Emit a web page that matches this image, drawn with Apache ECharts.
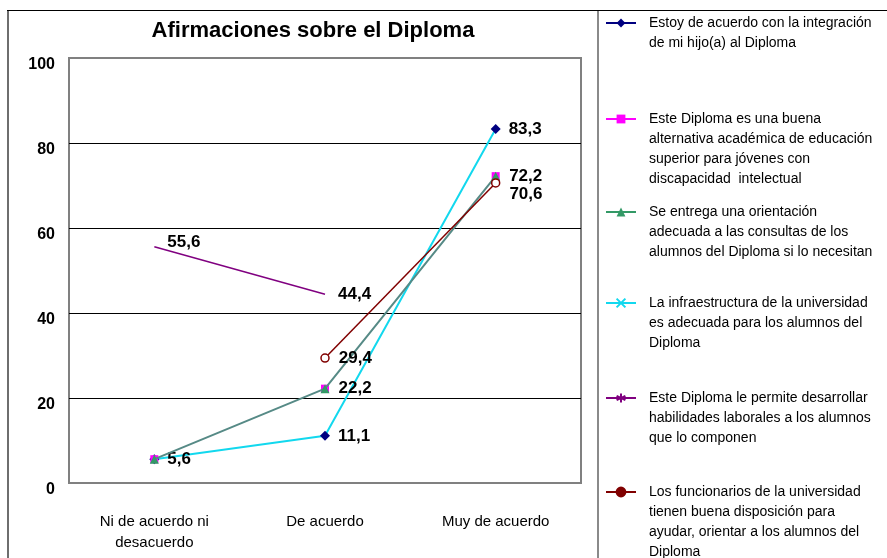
<!DOCTYPE html>
<html>
<head>
<meta charset="utf-8">
<script src="https://cdn.jsdelivr.net/npm/echarts@6/dist/echarts.min.js"></script>
<style>
  html, body { margin: 0; padding: 0; background: #fff; }
  #chart { width: 887px; height: 558px; }
</style>
</head>
<body>
<div id="chart"></div>
<script>
const categories = ['Ni de acuerdo ni\ndesacuerdo', 'De acuerdo', 'Muy de acuerdo']
const yTicks = [0, 20, 40, 60, 80, 100]

const integracion = [5.6, 11.1, 83.3]
const alternativa = [5.6, 22.2, 72.2]
const orientacion = [5.6, 22.2, 72.2]
const infraestructura = [5.6, 11.1, 83.3]
const habilidades = [55.6, 44.4, null]
const funcionarios = [null, 29.4, 70.6]

// which points carry a value label (shared positions are labelled once)
const labelsInfra = [true, true, true]
const labelsOrient = [false, true, true]
const labelsHab = [true, true, false]
const labelsFunc = [false, true, true]

const legendLines = [
  ['Estoy de acuerdo con la integración', 'de mi hijo(a) al Diploma'],
  ['Este Diploma es una buena', 'alternativa académica de educación', 'superior para jóvenes con', 'discapacidad  intelectual'],
  ['Se entrega una orientación', 'adecuada a las consultas de los', 'alumnos del Diploma si lo necesitan'],
  ['La infraestructura de la universidad', 'es adecuada para los alumnos del', 'Diploma'],
  ['Este Diploma le permite desarrollar', 'habilidades laborales a los alumnos', 'que lo componen'],
  ['Los funcionarios de la universidad', 'tienen buena disposición para', 'ayudar, orientar a los alumnos del', 'Diploma']
]
const legendTopY = [22, 118, 211, 302, 397, 491]
const names = legendLines.map(l => l.join(' '))

const FONT = '"Liberation Sans", Arial, sans-serif'
const LH = 20
const X_MARK = 'path://M0,0L10,10M10,0L0,10'
const STAR_MARK = 'path://M5,0L5,10M0,2.5L10,7.5M0,7.5L10,2.5'

const fmt = p => String(p.value).replace('.', ',')

function withLabels(values, flags, offsets) {
  return values.map((v, i) => {
    const item = { value: v, label: { show: !!(flags && flags[i]) } }
    if (offsets && offsets[i]) item.label.offset = offsets[i]
    return item
  })
}

const labelBase = {
  position: 'right',
  distance: 9,
  color: '#000',
  fontWeight: 'bold',
  fontSize: 17,
  fontFamily: FONT,
  formatter: fmt
}
// for series whose markers are hidden in the plot (size 0)
const labelWide = Object.assign({}, labelBase, { distance: 13 })

const chart = echarts.init(document.getElementById('chart'))

const legends = legendLines.map((lines, i) => {
  const n = lines.length
  const text = '\n'.repeat(n - 1) + lines.join('\n')
  const override = {}
  if (i === 0 || i === 1) override.lineStyle = { opacity: 1 }
  if (i === 2) override.lineStyle = { color: '#339966' }
  if (i === 5) override.itemStyle = { color: '#800000' }
  return {
    left: 605,
    top: legendTopY[i] + 1 - (2 * n - 1) * LH / 2,
    orient: 'vertical',
    padding: 0,
    selectedMode: false,
    itemWidth: 30,
    itemHeight: 11,
    itemGap: 0,
    formatter: () => text,
    textStyle: { fontSize: 14, color: '#000', fontFamily: FONT, lineHeight: LH, padding: [0, 0, 0, 8] },
    data: [Object.assign({ name: names[i] }, override)]
  }
})

chart.setOption({
  backgroundColor: '#fff',
  animation: false,
  title: {
    text: 'Afirmaciones sobre el Diploma',
    left: 308,
    top: 15,
    textAlign: 'center',
    textStyle: { fontSize: 22, fontWeight: 'bold', color: '#000', fontFamily: FONT }
  },
  legend: legends,
  graphic: [
    { type: 'line', shape: { x1: 8, y1: 10, x2: 8, y2: 560 }, style: { stroke: '#6e6e6e', lineWidth: 2 } },
    { type: 'line', shape: { x1: 598, y1: 10, x2: 598, y2: 560 }, style: { stroke: '#8a8a8a', lineWidth: 2 } },
    { type: 'line', shape: { x1: 7, y1: 10.5, x2: 887, y2: 10.5 }, style: { stroke: '#000', lineWidth: 1 } }
  ],
  grid: {
    left: 69,
    right: 306,
    top: 58,
    bottom: 75,
    show: true,
    borderColor: '#808080',
    borderWidth: 2
  },
  xAxis: {
    type: 'category',
    data: categories,
    boundaryGap: true,
    axisLine: { show: false },
    axisTick: { show: false },
    axisLabel: { margin: 28, fontSize: 15, color: '#000', fontFamily: FONT, lineHeight: 21 }
  },
  yAxis: {
    type: 'value',
    min: yTicks[0],
    max: yTicks[yTicks.length - 1],
    interval: 20,
    axisLine: { show: false },
    axisTick: { show: false },
    axisLabel: { margin: 14, fontSize: 16, fontWeight: 'bold', color: '#000', fontFamily: FONT, verticalAlign: 'top', lineHeight: 14 },
    splitLine: { lineStyle: { color: ['#808080', '#000', '#000', '#000', '#000', '#808080'], width: 1 } }
  },
  series: [
    {
      name: names[0], type: 'line', z: 3,
      data: integracion,
      symbol: 'diamond', symbolSize: 10,
      itemStyle: { color: '#000080' },
      lineStyle: { color: '#000080', width: 2, opacity: 0 }
    },
    {
      name: names[1], type: 'line', z: 3,
      data: alternativa,
      symbol: 'rect', symbolSize: 8,
      itemStyle: { color: '#ff00ff' },
      lineStyle: { color: '#ff00ff', width: 2, opacity: 0 }
    },
    {
      name: names[2], type: 'line', z: 4,
      data: withLabels(orientacion, labelsOrient),
      label: labelBase,
      symbol: 'triangle', symbolSize: 9,
      itemStyle: { color: '#339966' },
      lineStyle: { color: '#568a86', width: 2 }
    },
    {
      name: names[3], type: 'line', z: 2,
      data: withLabels(infraestructura, labelsInfra),
      label: labelWide,
      symbol: X_MARK, symbolSize: 0,
      itemStyle: { color: '#12d8ee', borderColor: '#12d8ee', borderWidth: 1.2 },
      lineStyle: { color: '#12d8ee', width: 2 }
    },
    {
      name: names[4], type: 'line', z: 2,
      data: withLabels(habilidades, labelsHab, [[0, -4], null, null]),
      label: labelWide,
      symbol: STAR_MARK, symbolSize: 0,
      itemStyle: { color: '#800080', borderColor: '#800080', borderWidth: 1.2 },
      lineStyle: { color: '#800080', width: 1.5 }
    },
    {
      name: names[5], type: 'line', z: 5,
      data: withLabels(funcionarios, labelsFunc, [null, null, [0, 11]]),
      label: labelBase,
      symbol: 'circle', symbolSize: 8,
      itemStyle: { color: '#fff', borderColor: '#800000', borderWidth: 1.5 },
      lineStyle: { color: '#800000', width: 1.5 }
    }
  ]
})
</script>
</body>
</html>
